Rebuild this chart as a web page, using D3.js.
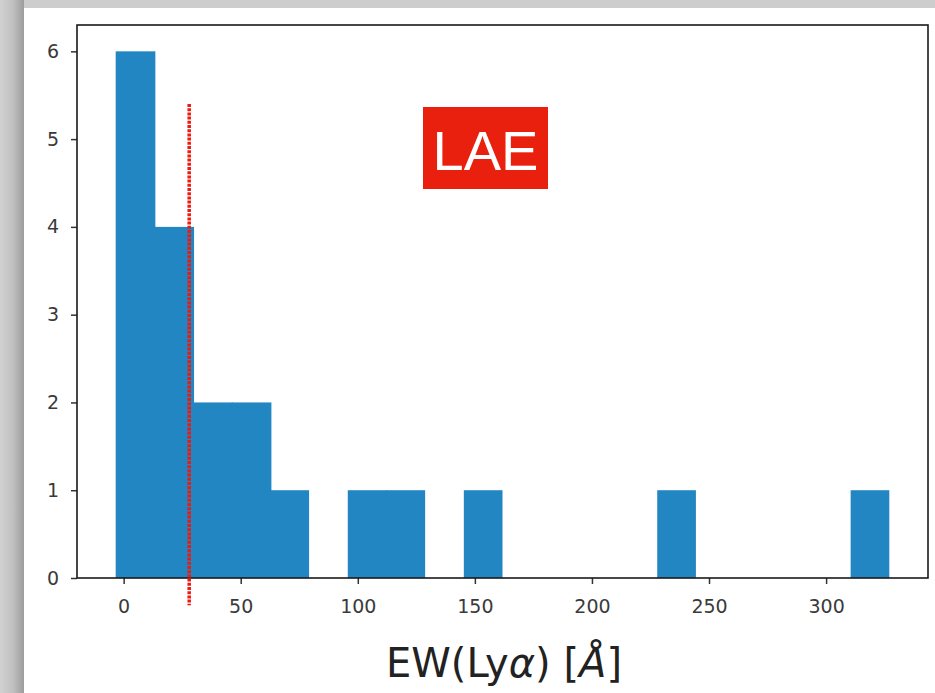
<!DOCTYPE html>
<html>
<head>
<meta charset="utf-8">
<script src="https://cdn.jsdelivr.net/npm/d3@7/dist/d3.min.js"></script>
<style>
  html, body { margin: 0; padding: 0; background: #cbcbcb; }
  svg { display: block; }
</style>
</head>
<body>
<svg id="chart" width="935" height="693"></svg>
<script>
// Histogram of Lyman-alpha equivalent widths, 20 equal bins
const binRange = [-3.4, 327.0];          // first left edge, last right edge (Å)
const binCounts = [6, 4, 2, 2, 1, 0, 1, 1, 0, 1, 0, 0, 0, 0, 1, 0, 0, 0, 0, 1];
const xTicks = [0, 50, 100, 150, 200, 250, 300];
const yTicks = [0, 1, 2, 3, 4, 5, 6];
const cutEW = 28;                         // LAE selection threshold (Å)
const cutSpan = [-0.31, 5.4];             // vertical extent of the threshold marker (counts)
const tagText = "LAE";

const svg = d3.select("#chart");
const W = 935, H = 693;

// backdrop: grey page with a soft shadow along the card's left edge
const defs = svg.append("defs");
const sh = defs.append("linearGradient").attr("id", "shadowL").attr("x1", 0).attr("x2", 1);
sh.append("stop").attr("offset", "0%").attr("stop-color", "#d2d2d2");
sh.append("stop").attr("offset", "55%").attr("stop-color", "#c0c0c0");
sh.append("stop").attr("offset", "100%").attr("stop-color", "#9c9c9c");
const shT = defs.append("linearGradient").attr("id", "shadowT").attr("x1", 0).attr("x2", 0).attr("y1", 0).attr("y2", 1);
shT.append("stop").attr("offset", "0%").attr("stop-color", "#cdcdcd");
shT.append("stop").attr("offset", "100%").attr("stop-color", "#c3c3c3");

svg.append("rect").attr("x", 0).attr("y", 0).attr("width", W).attr("height", H).attr("fill", "url(#shadowT)");
svg.append("rect").attr("x", 0).attr("y", 0).attr("width", 24).attr("height", H).attr("fill", "url(#shadowL)");
svg.append("rect").attr("x", 24).attr("y", 8).attr("width", W - 24).attr("height", H - 8).attr("fill", "#ffffff");

// plot area
const plotL = 77, plotR = 928, plotT = 25, plotB = 578;
const n = binCounts.length;
const binW = (binRange[1] - binRange[0]) / n;
const edges = d3.range(n + 1).map(i => binRange[0] + i * binW);
const pad = 0.05 * (binRange[1] - binRange[0]);

const x = d3.scaleLinear().domain([binRange[0] - pad, binRange[1] + pad]).range([plotL, plotR]);
const y = d3.scaleLinear().domain([0, 6.3]).range([plotB, plotT]);

const bins = binCounts.map((c, i) => ({
  x0: edges[i], x1: edges[i + 1], count: c,
  joined: i + 1 < n && binCounts[i + 1] > 0   // a filled bin follows directly
}));

// bars; where two filled bins touch, overlap by a pixel so no seam shows
const barColor = "#2286c3";
svg.append("g").selectAll("rect.bar")
  .data(bins.filter(b => b.count > 0))
  .join("rect")
  .attr("class", "bar")
  .attr("x", d => x(d.x0))
  .attr("width", d => x(d.x1) - x(d.x0) + (d.joined ? 1 : 0))
  .attr("y", d => y(d.count))
  .attr("height", d => y(0) - y(d.count))
  .attr("fill", barColor);

// axes
const tickFont = "DejaVu Sans, sans-serif";
const xAxis = d3.axisBottom(x).tickValues(xTicks).tickSize(6).tickPadding(6).tickFormat(d3.format("d"));
const yAxis = d3.axisLeft(y).tickValues(yTicks).tickSize(6).tickPadding(12).tickFormat(d3.format("d"));

const gx = svg.append("g").attr("transform", `translate(0,${plotB})`).call(xAxis);
const gy = svg.append("g").attr("transform", `translate(${plotL},0)`).call(yAxis);
[gx, gy].forEach(a => {
  a.select(".domain").remove();
  a.selectAll(".tick line").attr("stroke", "#333").attr("stroke-width", 1.5);
  a.selectAll(".tick text").attr("fill", "#3a3a3a").style("font-family", tickFont).style("font-size", "19px");
});
gx.selectAll(".tick text").attr("dy", "1.2em");

// frame
svg.append("rect")
  .attr("x", plotL).attr("y", plotT)
  .attr("width", plotR - plotL).attr("height", plotB - plotT)
  .attr("fill", "none").attr("stroke", "#1a1a1a").attr("stroke-width", 1.6);

// threshold marker
svg.append("line")
  .attr("x1", x(cutEW)).attr("x2", x(cutEW))
  .attr("y1", y(cutSpan[1])).attr("y2", y(cutSpan[0]))
  .attr("stroke", "#ec1a10").attr("stroke-width", 3.5)
  .attr("stroke-dasharray", "3 1.2");

// tag box
const tagX = 423, tagY = 107, tagW = 125, tagH = 82;
svg.append("rect").attr("x", tagX).attr("y", tagY).attr("width", tagW).attr("height", tagH).attr("fill", "#ea200f");
svg.append("text")
  .attr("x", tagX + tagW / 2).attr("y", 170)
  .attr("text-anchor", "middle")
  .attr("fill", "#ffffff")
  .style("font-family", "Liberation Sans, Arial, sans-serif")
  .style("font-size", "56px")
  .text(tagText);

// x-axis title with mathtext-style italics
const title = svg.append("text")
  .attr("x", 504).attr("y", 677)
  .attr("text-anchor", "middle")
  .attr("fill", "#222")
  .style("font-family", "DejaVu Sans, sans-serif")
  .style("font-size", "40px");
title.append("tspan").text("EW(Ly");
title.append("tspan").style("font-style", "italic").text("α");
title.append("tspan").text(") [");
title.append("tspan").style("font-style", "italic").text("Å");
title.append("tspan").text("]");
</script>
</body>
</html>
